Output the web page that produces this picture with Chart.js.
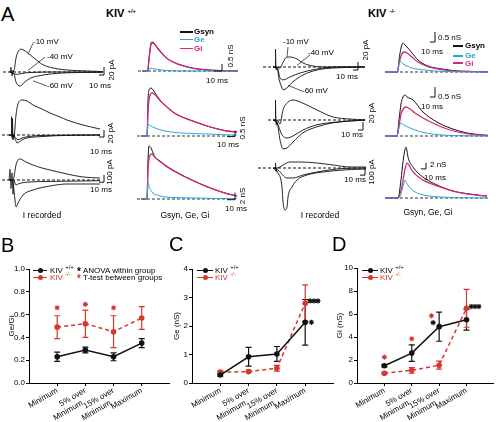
<!DOCTYPE html>
<html><head><meta charset="utf-8">
<script src="https://cdn.jsdelivr.net/npm/chart.js@4.4.1/dist/chart.umd.min.js"></script>
<style>
html,body{margin:0;padding:0;background:#fff;}
#fig{position:relative;width:499px;height:422px;overflow:hidden;font-family:Arial,"Liberation Sans",sans-serif;color:#000;background:#fff;}
canvas{position:absolute;}
.tx{position:absolute;white-space:nowrap;line-height:1;}
sup{font-size:6px;position:relative;top:-4px;vertical-align:baseline;}
.sw{position:absolute;height:1.4px;}
.dot{position:absolute;width:5px;height:5px;border-radius:50%;}
</style></head><body><div id="fig"></div>
<script>
// ---------------- DATA ----------------
// Panel A, KIV+/+, I recorded (t ms, I pA) at -10, -40, -60 mV
const wtI1_m10 = [[14,0],[22,4],[26,35],[30,50],[36,57],[44,53],[52,45],[60,37],[70,27],[80,18],[100,10],[128,5],[160,3],[200,1]];
const wtI1_m40 = [[14,0],[22,-4],[26,-6],[32,-5],[40,-3],[60,-1],[100,0],[200,0]];
const wtI1_m60 = [[14,0],[22,-5],[26,-25],[30,-33],[34,-35],[40,-29],[50,-19],[60,-13],[70,-10],[94,-5],[128,-2],[200,-0.5]];
const wtI1_art = [[14,0],[16,12],[18,-10],[20,4],[22,0]];
const wtI2_m10 = [[14,0],[24,-5],[28,60],[32,93],[40,105],[50,102],[62,90],[80,78],[96,66],[116,54],[130,45],[162,30],[196,18]];
const wtI2_m40 = [[14,0],[22,0],[28,-10],[32,-14],[40,-9],[56,-4],[90,-1],[196,0]];
const wtI2_m60 = [[14,0],[22,0],[28,-18],[30,-24],[34,-21],[40,-15],[50,-9],[76,-5],[110,-2],[196,0]];
const wtI2_art = [[18,0],[19,55],[20,-10],[21,50],[22,-15],[24,0]];
const wtI3_m10 = [[14,0],[22,0],[28,210],[32,280],[36,294],[48,252],[62,210],[80,168],[96,140],[130,84],[162,42],[196,28]];
const wtI3_m40 = [[14,0],[22,0],[26,-40],[28,-70],[34,-50],[50,-30],[100,-20],[196,-10]];
const wtI3_m60 = [[14,0],[20,0],[22,-40],[26,-280],[28,-378],[32,-322],[42,-210],[62,-140],[96,-84],[130,-56],[196,-56]];
const wtI3_art = [[14,0],[16,150],[18,-120],[20,100],[22,-200],[24,0]];
// Panel A, KIV+/+, conductances (t ms, nS)
const wtG1_syn = [[5,0],[12,0],[14,1.0],[16,1.9],[17.5,2.03],[20,1.95],[23.75,1.68],[30,1.26],[37.5,0.84],[50,0.49],[67.5,0.21],[87.5,0.07],[108,0.02],[125,0]];
const wtG1_gi  = [[5,0],[12,0],[14,0.9],[16,1.8],[17.5,1.95],[20,1.9],[23.75,1.64],[30,1.22],[37.5,0.82],[50,0.48],[67.5,0.2],[87.5,0.07],[108,0.02],[125,0]];
const wtG1_ge  = [[5,0],[12,0],[14,0.15],[16,0.2],[20,0.15],[25,0.1],[30,0.06],[40,0.02],[50,0],[125,0]];
const wtG2_syn = [[5,0],[12.5,0],[13.75,2.88],[15,3.68],[17.5,3.84],[22.5,3.44],[28.75,2.88],[36.25,2.4],[45,1.92],[55,1.56],[66.25,1.28],[87.5,0.8],[112.5,0.4],[125,0.32]];
const wtG2_gi  = [[5,0],[12.5,0],[14,2.2],[16,3.2],[18.5,3.45],[22.5,3.3],[28.75,2.84],[36.25,2.38],[45,1.9],[55,1.55],[66.25,1.27],[87.5,0.8],[112.5,0.4],[125,0.32]];
const wtG2_ge  = [[5,0],[12.5,0],[13.75,0.96],[16,0.85],[22.5,0.64],[35,0.4],[56,0.24],[89,0.16],[122,0.08],[125,0.08]];
const wtG3_syn = [[5,0],[12.5,0],[13.75,10.9],[15,14.84],[17.5,14.3],[20,12.9],[22.5,11.76],[28.75,10.64],[35,9.52],[51.25,7.28],[68.75,5.32],[88.75,3.36],[110,1.68],[125,0.84]];
const wtG3_gi  = [[5,0],[12.5,0],[13.75,8.1],[16.25,12.3],[18.75,12.6],[22.5,11.6],[28.75,10.5],[35,9.4],[51.25,7.2],[68.75,5.25],[88.75,3.3],[110,1.65],[125,0.84]];
const wtG3_ge  = [[5,0],[12.5,0],[13.75,4.76],[15,3.5],[17.5,2.4],[20,1.68],[27,1.0],[35,0.56],[50,0.4],[70,0.28],[100,0.15],[125,0.1]];
// Panel A, KIV-/-, I recorded
const koI1_m10 = [[20,0],[28,0],[34,-3],[40,12],[48,25],[54,25],[68,20],[80,10],[100,2.5],[128,0],[204,0]];
const koI1_m40 = [[20,0],[28,0],[34,-27],[40,-32],[54,-25],[74,-15],[108,-5],[148,0],[204,0]];
const koI1_m60 = [[20,0],[28,0],[32,-30],[38,-52],[40,-57],[48,-52],[60,-37],[80,-20],[108,-7.5],[140,-2.5],[200,0]];
const koI1_art = [[24,0],[25,45],[26,-7],[27,0]];
const koI2_m10 = [[20,0],[28,0],[34,-10],[40,25],[50,45],[60,50],[80,42],[108,25],[140,7.5],[174,2.5],[204,0]];
const koI2_m40 = [[20,0],[28,-7],[38,-37],[48,-45],[60,-40],[80,-25],[108,-12],[148,-5],[204,0]];
const koI2_m60 = [[20,0],[28,-5],[34,-50],[40,-72],[48,-70],[60,-55],[80,-32],[108,-17],[140,-7],[174,-2.5],[204,0]];
const koI2_art = [[24,0],[25,50],[26,-12],[27,0]];
const koI3_m10 = [[20,0],[28,0],[40,42],[54,84],[74,84],[108,70],[140,42],[174,14],[206,14]];
const koI3_m40 = [[20,0],[30,-28],[48,-140],[60,-140],[80,-98],[108,-56],[148,-14],[206,0]];
const koI3_m60 = [[20,0],[30,-70],[38,-266],[40,-476],[44,-588],[48,-546],[50,-406],[58,-266],[68,-168],[88,-98],[120,-56],[160,-28],[206,-14]];
const koI3_art = [[24,0],[25,70],[26,-50],[27,0]];
// Panel A, KIV-/-, conductances
const koG1_syn = [[0,0],[25,0],[28,0.6],[32,1.2],[36,1.45],[40,1.35],[44,1.25],[54,0.95],[66,0.6],[86,0.3],[114,0.15],[146,0.05],[180,0.02],[206,0]];
const koG1_gi  = [[0,0],[25,0],[28,0.4],[32,0.8],[38,1.0],[44,0.95],[54,0.75],[66,0.5],[86,0.27],[114,0.12],[146,0.04],[180,0.02],[206,0]];
const koG1_ge  = [[0,0],[25,0],[28,0.45],[30,0.55],[36,0.4],[44,0.3],[54,0.2],[80,0.1],[114,0.03],[206,0]];
const koG2_syn = [[0,0],[24,0],[28,0.8],[32,1.6],[36,1.95],[40,2.05],[44,1.95],[56,1.8],[76,1.2],[104,0.7],[130,0.4],[164,0.15],[196,0.05],[206,0.03]];
const koG2_gi  = [[0,0],[24,0],[28,0.5],[32,1.1],[38,1.4],[42,1.45],[50,1.35],[60,1.15],[76,0.9],[104,0.55],[130,0.3],[164,0.12],[196,0.04],[206,0.03]];
const koG2_ge  = [[0,0],[24,0],[28,0.4],[32,0.65],[38,0.55],[50,0.4],[70,0.22],[100,0.08],[140,0.02],[206,0]];
const koG3_syn = [[0,0],[26,0],[32,6],[36,12],[40,16],[42,16.8],[44,15.5],[46,13.5],[56,10.2],[76,6.9],[104,4.3],[136,2.3],[170,1.3],[204,0.66]];
const koG3_gi  = [[0,0],[26,0],[34,4],[40,9.5],[44,11.5],[48,10.8],[56,8.6],[76,5.9],[104,4.0],[136,2.3],[170,1.2],[204,0.6]];
const koG3_ge  = [[0,0],[28,0],[34,2.5],[38,5],[40,5.9],[44,4.8],[50,3.3],[60,2.0],[70,1.3],[90,0.6],[110,0.33],[150,0.1],[204,0]];

// Panels B-D
const categories = [['Minimum'], ['5% over','Minimum    '], ['15% over','Minimum    '], ['Maximum']];
const catIndex = [0, 1, 2, 3];
const ratioWT = [0.23, 0.29, 0.23, 0.35];   const ratioWTerr = [0.04, 0.025, 0.035, 0.04];
const ratioKO = [0.49, 0.52, 0.45, 0.57];   const ratioKOerr = [0.10, 0.12, 0.14, 0.10];
const geWT = [0.28, 0.92, 1.02, 2.13];      const geWTerr = [0.04, 0.33, 0.26, 0.8];
const geKO = [0.38, 0.40, 0.52, 2.80];      const geKOerr = [0.04, 0.04, 0.10, 0.64];
const giWT = [1.50, 2.60, 4.90, 5.50];      const giWTerr = [0.10, 0.72, 1.27, 0.90];
const giKO = [0.85, 1.10, 1.55, 6.50];      const giKOerr = [0.10, 0.25, 0.35, 1.65];
// significance marks: [x (category index), y]
const sigB_ttest = [[0,0.66],[1,0.69],[2,0.66]];
const sigC_anova = [[3.17,2.88],[3.31,2.88],[3.45,2.88],[3.22,2.13]];
const sigD_ttest = [[0,2.25],[1,3.85],[1.72,5.85]];
const sigD_anova = [[1.78,5.25],[3.17,6.65],[3.31,6.65],[3.45,6.65]];

// ---------------- DRAWING ----------------
const F = 'Arial, "Liberation Sans", sans-serif';
Chart.defaults.font.family = F;
const fig = document.getElementById('fig');
const BLK = '#111', GE = '#2ea3dd', GI = '#d3287d', RED = '#d8372b';
const pts = a => a.map(p => ({x: p[0], y: p[1]}));

function addCanvas(box) {
  const cv = document.createElement('canvas');
  cv.width = box[2]; cv.height = box[3];
  cv.style.left = box[0] + 'px'; cv.style.top = box[1] + 'px';
  cv.style.width = box[2] + 'px'; cv.style.height = box[3] + 'px';
  fig.appendChild(cv);
  return cv;
}
function trace(box, xr, yr, sets) {
  const cv = addCanvas(box);
  new Chart(cv, {
    type: 'line',
    data: {datasets: sets.map(s => ({
      data: pts(s.d), borderColor: s.c || BLK, borderWidth: s.w || 1, borderDash: s.dash || [],
      pointRadius: 0, fill: false, tension: 0,
      cubicInterpolationMode: s.smooth ? 'monotone' : 'default'
    }))},
    options: {responsive: false, animation: false, devicePixelRatio: 1, events: [],
      layout: {padding: 0},
      plugins: {legend: {display: false}, tooltip: {enabled: false}},
      scales: {x: {type: 'linear', display: false, min: xr[0], max: xr[1]},
               y: {type: 'linear', display: false, min: yr[0], max: yr[1]}}}
  });
}
const base = (a, b) => [[a, 0], [b, 0]];
function iSets(m10, m40, m60, art, bl, bar, leads) {
  const s = [
    {d: bl, dash: [3, 2], w: 1},
    {d: m60, smooth: true, w: 0.9},
    {d: m40, smooth: true, w: 0.9},
    {d: m10, smooth: true, w: 0.9},
    {d: art, w: 0.8},
    {d: bar, w: 1}
  ];
  (leads || []).forEach(l => s.push({d: l, w: 0.7}));
  return s;
}
function gSets(syn, gi, ge, bl, bar) {
  return [
    {d: bar, w: 1},
    {d: ge, c: GE, smooth: true, w: 1},
    {d: gi, c: GI, smooth: true, w: 1.3},
    {d: syn, smooth: true, w: 1},
    {d: bl, dash: [3, 2], w: 1, c: '#333'}
  ];
}
// KIV+/+ I recorded
trace([0, 34, 112, 58], [-6, 218], [-50, 95], iSets(wtI1_m10, wtI1_m40, wtI1_m60, wtI1_art, base(0, 200),
  [[192, -7.5], [202, -7.5], [202, 12.5]], [[[60, 72], [50, 44]], [[84, 37], [50, 4]], [[88, -35], [60, -22]]]));
trace([0, 96, 112, 52], [-4, 220], [-39, 117], iSets(wtI2_m10, wtI2_m40, wtI2_m60, wtI2_art, base(0, 200),
  [[194, -6], [204, -6], [204, 15]]));
trace([0, 150, 112, 62], [-4, 220], [-448, 420], iSets(wtI3_m10, wtI3_m40, wtI3_m60, wtI3_art, base(0, 196),
  [[194, -30], [204, -30], [204, 70]]));
// KIV+/+ conductances
trace([134, 36, 110, 40], [-5, 132.5], [-0.35, 2.45], gSets(wtG1_syn, wtG1_gi, wtG1_ge, base(0, 125), [[95, 0], [105, 0], [105, 0.5]]));
trace([134, 84, 112, 58], [-3.75, 136.25], [-0.48, 4.16], gSets(wtG2_syn, wtG2_gi, wtG2_ge, base(0, 125), [[112.5, -0.05], [122.5, -0.05], [122.5, 0.45]]));
trace([134, 140, 112, 64], [-3.75, 136.25], [-1.4, 16.52], gSets(wtG3_syn, wtG3_gi, wtG3_ge, base(0, 122.5), [[112.5, -0.2], [122.5, -0.2], [122.5, 1.8]]));
// KIV-/- I recorded
trace([255, 36, 116, 60], [-16, 216], [-72.5, 77.5], iSets(koI1_m10, koI1_m40, koI1_m60, koI1_art, base(0, 204),
  [[180, -7.5], [190, -7.5], [190, 12.5]], [[[50, 50], [48, 26]], [[94, 30], [68, 4]], [[78, -60], [50, -46]]]));
trace([255, 92, 116, 62], [-16, 216], [-85, 70], iSets(koI2_m10, koI2_m40, koI2_m60, koI2_art, base(10, 204),
  [[190, -25], [200, -25], [200, -5]]));
trace([255, 148, 116, 66], [-16, 216], [-644, 280], iSets(koI3_m10, koI3_m40, koI3_m60, koI3_art, base(-10, 206),
  [[194, -100], [204, -100], [204, 0]]));
// KIV-/- conductances
trace([380, 26, 112, 50], [-10, 214], [-0.2, 2.3], gSets(koG1_syn, koG1_gi, koG1_ge, base(0, 206), [[90, 1.5], [100, 1.5], [100, 2.0]]));
trace([380, 84, 112, 56], [-10, 214], [-0.2, 2.6], gSets(koG2_syn, koG2_gi, koG2_ge, base(0, 206), [[90, 1.95], [100, 1.95], [100, 2.45]]));
trace([380, 140, 112, 64], [-10, 214], [-1.98, 19.14], gSets(koG3_syn, koG3_gi, koG3_ge, base(0, 206), [[72, 9.6], [82, 9.6], [82, 11.6]]));

// ---- statistics panels ----
const errPlugin = {
  id: 'errbars',
  beforeDatasetsDraw(chart) {
    const {ctx, scales: {x, y}} = chart;
    chart.data.datasets.forEach(ds => {
      if (!ds.errors) return;
      ctx.save(); ctx.strokeStyle = ds.borderColor; ctx.lineWidth = 1.2; ctx.setLineDash([]);
      ds.data.forEach((p, j) => {
        const e = ds.errors[j], px = x.getPixelForValue(p.x);
        const y1 = y.getPixelForValue(p.y - e), y2 = y.getPixelForValue(p.y + e);
        ctx.beginPath();
        ctx.moveTo(px, y1); ctx.lineTo(px, y2);
        ctx.moveTo(px - 3, y1); ctx.lineTo(px + 3, y1);
        ctx.moveTo(px - 3, y2); ctx.lineTo(px + 3, y2);
        ctx.stroke();
      });
      ctx.restore();
    });
  }
};
function stat(box, pad, yw, yOpt, wt, wtErr, ko, koErr, sigRed, sigBlack) {
  const cv = addCanvas(box);
  const series = (v) => v.map((y, i) => ({x: catIndex[i], y}));
  const star = (a, c) => ({data: pts(a), showLine: false, pointStyle: 'star', pointRadius: 2.6,
    pointBorderColor: c, pointBackgroundColor: c, pointBorderWidth: 1.1, borderColor: c});
  const ds = [
    {data: series(wt), errors: wtErr, borderColor: BLK, backgroundColor: BLK, borderWidth: 1.5,
     pointRadius: 2.8, pointBackgroundColor: BLK, pointBorderWidth: 0},
    {data: series(ko), errors: koErr, borderColor: RED, backgroundColor: RED, borderWidth: 1.5, borderDash: [4, 3],
     pointRadius: 2.8, pointBackgroundColor: RED, pointBorderWidth: 0}
  ];
  if (sigRed) ds.push(star(sigRed, RED));
  if (sigBlack) ds.push(star(sigBlack, BLK));
  const axisCommon = {
    grid: {drawOnChartArea: false, drawTicks: true, tickLength: 3, color: '#000', lineWidth: 1},
    border: {color: '#000', width: 1}
  };
  new Chart(cv, {
    type: 'line',
    data: {datasets: ds},
    plugins: [errPlugin],
    options: {responsive: false, animation: false, devicePixelRatio: 1, events: [],
      layout: {padding: {top: pad[0], right: pad[1], left: 0, bottom: 0}},
      plugins: {legend: {display: false}, tooltip: {enabled: false}},
      scales: {
        x: Object.assign({type: 'linear', min: -1, max: 4,
          afterBuildTicks: s => { s.ticks = catIndex.map(v => ({value: v})); },
          afterFit: s => { s.height = pad[2]; },
          ticks: {callback: v => categories[v] || '', minRotation: 30, maxRotation: 30, autoSkip: false,
                  font: {size: 8, family: F, lineHeight: 1.15}, color: '#000', padding: 0}}, axisCommon),
        y: Object.assign({type: 'linear', min: yOpt.min, max: yOpt.max,
          afterFit: s => { s.width = yw; },
          ticks: {stepSize: yOpt.step, callback: yOpt.fmt, font: {size: 8, family: F}, color: '#000', padding: 1},
          title: {display: true, text: yOpt.title, font: {size: 8, family: F}, color: '#000', padding: {top: 7, bottom: 0}}},
          axisCommon)
      }}
  });
}
stat([0, 258, 175, 164], [11, 4.5, 39], 29, {min: 0, max: 1, step: 0.2, fmt: v => v.toFixed(1), title: 'Ge/Gi'},
  ratioWT, ratioWTerr, ratioKO, ratioKOerr, sigB_ttest, null);
stat([165, 258, 175, 164], [11, 6.5, 39], 27, {min: 0, max: 4, step: 1, fmt: v => String(v), title: 'Ge (nS)'},
  geWT, geWTerr, geKO, geKOerr, null, sigC_anova);
stat([328, 258, 171, 164], [10, 2, 39], 29, {min: 0, max: 10, step: 2, fmt: v => String(v), title: 'Gi (nS)'},
  giWT, giWTerr, giKO, giKOerr, sigD_ttest, sigD_anova);

// ---- text labels (layout) ----
function txt(html, x, y, opt) {
  opt = opt || {};
  const d = document.createElement('div');
  d.className = 'tx'; d.innerHTML = html;
  d.style.left = x + 'px'; d.style.top = y + 'px';
  d.style.fontSize = (opt.s || 8) + 'px';
  if (opt.c) d.style.color = opt.c;
  if (opt.b) d.style.fontWeight = 'bold';
  const a = opt.a || 'c';
  d.style.transform = a === 'l' ? 'translate(0,-50%)' : a === 'r' ? 'translate(-50%,-50%) rotate(-90deg)' : 'translate(-50%,-50%)';
  fig.appendChild(d);
}
function swatch(x1, x2, y, c, dot) {
  const s = document.createElement('div'); s.className = 'sw';
  s.style.left = x1 + 'px'; s.style.top = (y - 0.7) + 'px'; s.style.width = (x2 - x1) + 'px'; s.style.background = c;
  fig.appendChild(s);
  if (dot) { const d = document.createElement('div'); d.className = 'dot';
    d.style.left = ((x1 + x2) / 2 - 2.5) + 'px'; d.style.top = (y - 2.5) + 'px'; d.style.background = c; fig.appendChild(d); }
}
txt('A', 1, 14, {a: 'l', s: 20});
txt('KIV <sup>+/+</sup>', 106, 13, {a: 'l', s: 11, b: true});
txt('KIV <sup>-/-</sup>', 368, 13, {a: 'l', s: 11, b: true});
// KIV+/+ I labels
txt('-10 mV', 33, 42, {a: 'l'}); txt('-40 mV', 47, 57, {a: 'l'}); txt('-60 mV', 47, 86, {a: 'l'});
txt('20 pA', 112, 70, {a: 'r'}); txt('10 ms', 100, 86);
txt('20 pA', 111, 133, {a: 'r'}); txt('10 ms', 101, 152);
txt('100 pA', 110, 172, {a: 'r'}); txt('10 ms', 101, 190);
txt('I recorded', 42, 215, {s: 8.5});
// KIV+/+ G labels
swatch(180, 193, 32, BLK); swatch(180, 193, 39.5, GE); swatch(180, 193, 48.5, GI);
txt('Gsyn', 194, 31.5, {a: 'l', b: true}); txt('Ge', 194, 39.5, {a: 'l', b: true, c: GE}); txt('Gi', 194, 48.5, {a: 'l', b: true, c: GI});
txt('0.5 nS', 231, 56, {a: 'r'}); txt('10 ms', 217, 81);
txt('0.5 nS', 243, 128, {a: 'r'}); txt('10 ms', 228, 145);
txt('2 nS', 243, 196, {a: 'r'}); txt('10 ms', 236, 209);
txt('Gsyn, Ge, Gi', 185, 215, {s: 8.5});
// KIV-/- I labels
txt('-10 mV', 283, 42, {a: 'l'}); txt('-40 mV', 308, 53, {a: 'l'}); txt('-60 mV', 302, 91, {a: 'l'});
txt('20 pA', 366, 50, {a: 'r'}); txt('10 ms', 347, 77);
txt('20 pA', 372, 113, {a: 'r'}); txt('10 ms', 352, 135);
txt('100 pA', 372, 172, {a: 'r'}); txt('10 ms', 355, 180);
txt('I recorded', 320, 215, {s: 8.5});
// KIV-/- G labels
txt('0.5 nS', 438, 38, {a: 'l'}); txt('10 ms', 432, 52);
swatch(453, 463, 46, BLK); swatch(453, 463, 56, GE); swatch(453, 463, 63, GI);
txt('Gsyn', 465, 46, {a: 'l', b: true}); txt('Ge', 465, 56, {a: 'l', b: true, c: GE}); txt('Gi', 465, 63.5, {a: 'l', b: true, c: GI});
txt('0.5 nS', 438, 97, {a: 'l'}); txt('10 ms', 432, 107);
txt('2 nS', 430, 165, {a: 'l'}); txt('10 ms', 435, 178);
txt('Gsyn, Ge, Gi', 428, 212, {s: 8.5});
// B, C, D
txt('B', 1, 245, {a: 'l', s: 20}); txt('C', 169, 244, {a: 'l', s: 20}); txt('D', 332, 244, {a: 'l', s: 20});
swatch(33, 47, 270.5, BLK, true); swatch(33, 47, 277.5, RED, true);
txt('KIV <sup>+/+</sup>', 50, 270.5, {a: 'l'}); txt('KIV <sup>-/-</sup>', 50, 277.5, {a: 'l', c: RED});
txt('*', 77, 272, {a: 'l', s: 10, b: true}); txt('*', 77, 279, {a: 'l', s: 10, b: true, c: RED});
txt('ANOVA within group', 83, 270.5, {a: 'l'}); txt('T-test between groups', 83, 277.5, {a: 'l'});
swatch(197, 213, 270.5, BLK, true); swatch(197, 213, 277.5, RED, true);
txt('KIV <sup>+/+</sup>', 215, 270.5, {a: 'l'}); txt('KIV <sup>-/-</sup>', 215, 277.5, {a: 'l', c: RED});
swatch(362, 378, 270.5, BLK, true); swatch(362, 378, 277.5, RED, true);
txt('KIV <sup>+/+</sup>', 380, 270.5, {a: 'l'}); txt('KIV <sup>-/-</sup>', 380, 277.5, {a: 'l', c: RED});
</script></body></html>
